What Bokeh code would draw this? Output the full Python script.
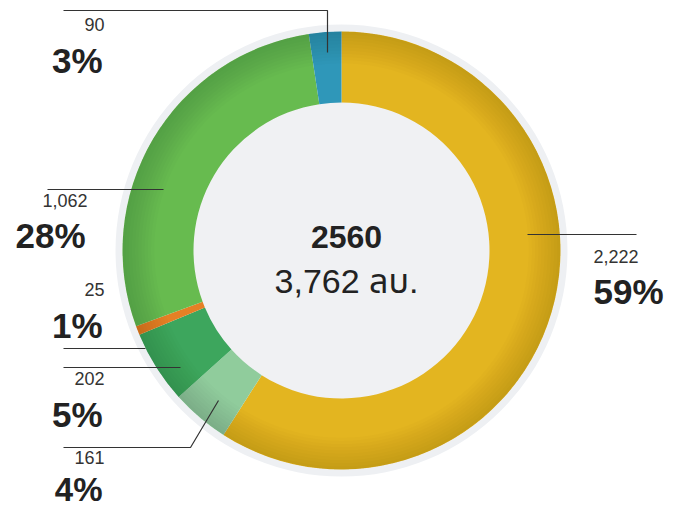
import numpy as np
from bokeh.plotting import figure
from bokeh.models import Range1d, ColumnDataSource
from bokeh.core.properties import value
from bokeh.embed import file_html
from bokeh.resources import INLINE

# ---- data (clockwise from top) ----
counts = [2222, 161, 202, 25, 1062, 90]
count_labels = ["2,222", "161", "202", "25", "1,062", "90"]
pct_labels = ["59%", "4%", "5%", "1%", "28%", "3%"]
colors = ["#E3B520", "#90CC9C", "#3DA65D", "#E58025", "#67BB4F", "#2F97B9"]
center_title = "2560"
center_total = "3,762 ลบ."

W, H = 683, 508
p = figure(width=W, height=H, output_backend="svg", toolbar_location=None,
           x_range=Range1d(0, W), y_range=Range1d(0, H),
           min_border=0, outline_line_color=None, background_fill_color="white",
           border_fill_color="white")
p.axis.visible = False
p.grid.visible = False

def Y(y_img):
    return H - y_img

TXT_SHIFT = 12  # compensate for the text baseline offset of the renderer
def YT(y_img):
    return H - (y_img - TXT_SHIFT)

cx, cy = 341, Y(250)
r_in, r_out, r_ring = 148, 219, 226

vals = np.array(counts, dtype=float)
frac = vals / vals.sum()
c1 = np.cumsum(frac)
c0 = c1 - frac
start = np.pi / 2 - 2 * np.pi * c0
end = np.pi / 2 - 2 * np.pi * c1

# outer grey ring
p.annulus(x=[cx], y=[cy], inner_radius=r_out - 2, outer_radius=r_ring,
          fill_color="#EEF0F3", line_color=None)
# inner fill
p.circle(x=[cx], y=[cy], radius=r_in + 1, fill_color="#F0F1F3", line_color=None)

src = ColumnDataSource(dict(start=start, end=end, color=colors))
p.annular_wedge(x=cx, y=cy, inner_radius=r_in, outer_radius=r_out,
                start_angle="start", end_angle="end", direction="clock",
                fill_color="color", line_color=None, source=src)

# subtle shading toward outer edge
n = 10
for k in range(n):
    ri = r_in + (r_out - r_in) * (0.55 + 0.45 * k / n)
    p.annulus(x=[cx], y=[cy], inner_radius=ri, outer_radius=r_out,
              fill_color="black", fill_alpha=0.012, line_color=None)

# leader lines (layout)
lc = "#333333"
p.line(x=[63, 327, 327], y=[Y(10), Y(10), Y(52)], line_color=lc, line_width=1.2)
p.line(x=[47, 163], y=[Y(189), Y(189)], line_color=lc, line_width=1.2)
p.line(x=[63, 145], y=[Y(348), Y(348)], line_color=lc, line_width=1.2)
p.line(x=[63, 180], y=[Y(367), Y(367)], line_color=lc, line_width=1.2)
p.line(x=[63, 190, 218], y=[Y(447), Y(447), Y(400)], line_color=lc, line_width=1.2)
p.line(x=[527, 636], y=[Y(234), Y(234)], line_color=lc, line_width=1.2)

font = value("Liberation Sans")
# label layout: (x, count baseline, pct baseline, align, pct size) per slice
layout = [
    (593, 268, 303, "left", 35),
    (104, 469, 501, "right", 33),
    (104, 390, 426, "right", 35),
    (104, 301, 337, "right", 35),
    (87, 212, 247, "right", 35),
    (104, 36, 72, "right", 35),
]
for i, (lx, yb1, yb2, al, fs) in enumerate(layout):
    p.text(x=[lx], y=[YT(yb1)], text=[count_labels[i]], text_font=font,
           text_font_size="18px", text_color="#333333", text_align=al,
           text_baseline="alphabetic")
    p.text(x=[lx - (0 if al == "left" else 2)], y=[YT(yb2)], text=[pct_labels[i]],
           text_font=font, text_font_size=f"{fs}px", text_font_style="bold",
           text_color="#222222", text_align=al, text_baseline="alphabetic")

p.text(x=[346], y=[YT(248)], text=[center_title], text_font=font,
       text_font_size="32px", text_font_style="bold", text_color="#222222",
       text_align="center", text_baseline="alphabetic")
p.text(x=[346], y=[YT(292)], text=[center_total],
       text_font=value("Liberation Sans, Noto Sans Thai, Loma, sans-serif"),
       text_font_size="34px", text_color="#222222",
       text_align="center", text_baseline="alphabetic")

open("out.html", "w").write(file_html(p, INLINE))
